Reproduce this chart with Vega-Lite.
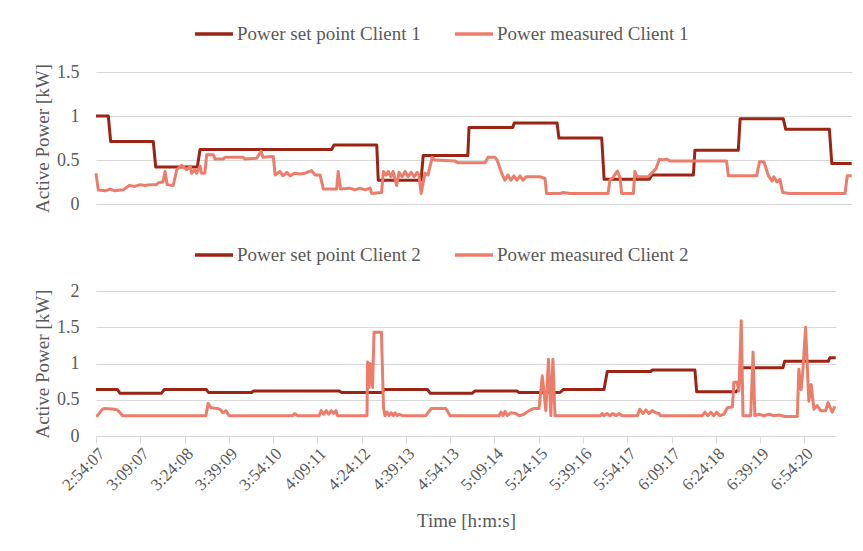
{
 "$schema": "https://vega.github.io/schema/vega-lite/v6.json",
 "padding": {"left": 33, "top": 13, "right": 5, "bottom": 5},
 "background": "white",
 "config": {
  "font": "Times New Roman, Liberation Serif, serif",
  "view": {"stroke": null},
  "axis": {"labelFont": "Times New Roman, Liberation Serif, serif", "titleFont": "Times New Roman, Liberation Serif, serif", "labelFontSize": 18, "titleFontSize": 19, "labelColor": "#595959", "titleColor": "#595959", "titleFontWeight": "normal", "gridColor": "#d9d9d9", "domainColor": "#d9d9d9", "tickColor": "#d9d9d9"},
  "legend": {"labelFont": "Times New Roman, Liberation Serif, serif", "labelFontSize": 19, "labelColor": "#595959", "symbolType": "stroke", "symbolStrokeWidth": 3.5, "symbolSize": 1444, "orient": "none", "direction": "horizontal", "columnPadding": 27, "labelOffset": 2, "padding": 0, "title": null, "labelLimit": 400}
 },
 "datasets": {
  "c1": [
   {"t": 0, "series": "Power set point Client 1", "kW": 1.0},
   {"t": 4.08, "series": "Power set point Client 1", "kW": 1.0},
   {"t": 4.87, "series": "Power set point Client 1", "kW": 0.71},
   {"t": 19.0, "series": "Power set point Client 1", "kW": 0.71},
   {"t": 19.8, "series": "Power set point Client 1", "kW": 0.42},
   {"t": 33.6, "series": "Power set point Client 1", "kW": 0.42},
   {"t": 34.5, "series": "Power set point Client 1", "kW": 0.62},
   {"t": 78.2, "series": "Power set point Client 1", "kW": 0.62},
   {"t": 78.9, "series": "Power set point Client 1", "kW": 0.67},
   {"t": 93.1, "series": "Power set point Client 1", "kW": 0.67},
   {"t": 93.6, "series": "Power set point Client 1", "kW": 0.27},
   {"t": 107.8, "series": "Power set point Client 1", "kW": 0.27},
   {"t": 108.5, "series": "Power set point Client 1", "kW": 0.55},
   {"t": 123.3, "series": "Power set point Client 1", "kW": 0.55},
   {"t": 123.7, "series": "Power set point Client 1", "kW": 0.87},
   {"t": 138.2, "series": "Power set point Client 1", "kW": 0.87},
   {"t": 138.7, "series": "Power set point Client 1", "kW": 0.92},
   {"t": 152.9, "series": "Power set point Client 1", "kW": 0.92},
   {"t": 153.5, "series": "Power set point Client 1", "kW": 0.75},
   {"t": 167.7, "series": "Power set point Client 1", "kW": 0.75},
   {"t": 168.5, "series": "Power set point Client 1", "kW": 0.28},
   {"t": 183.5, "series": "Power set point Client 1", "kW": 0.28},
   {"t": 184.3, "series": "Power set point Client 1", "kW": 0.33},
   {"t": 198.1, "series": "Power set point Client 1", "kW": 0.33},
   {"t": 198.6, "series": "Power set point Client 1", "kW": 0.61},
   {"t": 213.0, "series": "Power set point Client 1", "kW": 0.61},
   {"t": 213.6, "series": "Power set point Client 1", "kW": 0.97},
   {"t": 227.9, "series": "Power set point Client 1", "kW": 0.97},
   {"t": 228.7, "series": "Power set point Client 1", "kW": 0.85},
   {"t": 243.2, "series": "Power set point Client 1", "kW": 0.85},
   {"t": 244.0, "series": "Power set point Client 1", "kW": 0.46},
   {"t": 250.6, "series": "Power set point Client 1", "kW": 0.46},
   {"t": 0, "series": "Power measured Client 1", "kW": 0.35},
   {"t": 0.76, "series": "Power measured Client 1", "kW": 0.16},
   {"t": 3.0, "series": "Power measured Client 1", "kW": 0.15},
   {"t": 4.6, "series": "Power measured Client 1", "kW": 0.17},
   {"t": 6.3, "series": "Power measured Client 1", "kW": 0.15},
   {"t": 8.0, "series": "Power measured Client 1", "kW": 0.16},
   {"t": 9.05, "series": "Power measured Client 1", "kW": 0.16},
   {"t": 11.0, "series": "Power measured Client 1", "kW": 0.21},
   {"t": 12.9, "series": "Power measured Client 1", "kW": 0.2},
   {"t": 14.6, "series": "Power measured Client 1", "kW": 0.22},
   {"t": 16.2, "series": "Power measured Client 1", "kW": 0.21},
   {"t": 17.9, "series": "Power measured Client 1", "kW": 0.22},
   {"t": 20.1, "series": "Power measured Client 1", "kW": 0.22},
   {"t": 20.6, "series": "Power measured Client 1", "kW": 0.24},
   {"t": 22.2, "series": "Power measured Client 1", "kW": 0.25},
   {"t": 22.9, "series": "Power measured Client 1", "kW": 0.37},
   {"t": 23.6, "series": "Power measured Client 1", "kW": 0.22},
   {"t": 25.6, "series": "Power measured Client 1", "kW": 0.21},
   {"t": 26.8, "series": "Power measured Client 1", "kW": 0.39},
   {"t": 28.4, "series": "Power measured Client 1", "kW": 0.44},
   {"t": 30.1, "series": "Power measured Client 1", "kW": 0.39},
   {"t": 31.2, "series": "Power measured Client 1", "kW": 0.43},
   {"t": 31.7, "series": "Power measured Client 1", "kW": 0.35},
   {"t": 32.8, "series": "Power measured Client 1", "kW": 0.39},
   {"t": 33.4, "series": "Power measured Client 1", "kW": 0.35},
   {"t": 34.5, "series": "Power measured Client 1", "kW": 0.43},
   {"t": 35.0, "series": "Power measured Client 1", "kW": 0.35},
   {"t": 36.1, "series": "Power measured Client 1", "kW": 0.35},
   {"t": 36.7, "series": "Power measured Client 1", "kW": 0.56},
   {"t": 38.9, "series": "Power measured Client 1", "kW": 0.56},
   {"t": 39.5, "series": "Power measured Client 1", "kW": 0.51},
   {"t": 42.2, "series": "Power measured Client 1", "kW": 0.51},
   {"t": 42.8, "series": "Power measured Client 1", "kW": 0.53},
   {"t": 48.8, "series": "Power measured Client 1", "kW": 0.53},
   {"t": 49.4, "series": "Power measured Client 1", "kW": 0.51},
   {"t": 53.3, "series": "Power measured Client 1", "kW": 0.52},
   {"t": 54.0, "series": "Power measured Client 1", "kW": 0.56},
   {"t": 54.7, "series": "Power measured Client 1", "kW": 0.6},
   {"t": 55.4, "series": "Power measured Client 1", "kW": 0.53},
   {"t": 58.8, "series": "Power measured Client 1", "kW": 0.54},
   {"t": 59.4, "series": "Power measured Client 1", "kW": 0.33},
   {"t": 61.0, "series": "Power measured Client 1", "kW": 0.37},
   {"t": 62.0, "series": "Power measured Client 1", "kW": 0.32},
   {"t": 63.3, "series": "Power measured Client 1", "kW": 0.36},
   {"t": 64.3, "series": "Power measured Client 1", "kW": 0.32},
   {"t": 66.0, "series": "Power measured Client 1", "kW": 0.35},
   {"t": 67.6, "series": "Power measured Client 1", "kW": 0.34},
   {"t": 69.3, "series": "Power measured Client 1", "kW": 0.35},
   {"t": 71.5, "series": "Power measured Client 1", "kW": 0.38},
   {"t": 72.6, "series": "Power measured Client 1", "kW": 0.33},
   {"t": 74.3, "series": "Power measured Client 1", "kW": 0.33},
   {"t": 75.4, "series": "Power measured Client 1", "kW": 0.17},
   {"t": 79.8, "series": "Power measured Client 1", "kW": 0.17},
   {"t": 80.3, "series": "Power measured Client 1", "kW": 0.37},
   {"t": 81.1, "series": "Power measured Client 1", "kW": 0.17},
   {"t": 84.2, "series": "Power measured Client 1", "kW": 0.18},
   {"t": 85.9, "series": "Power measured Client 1", "kW": 0.16},
   {"t": 87.5, "series": "Power measured Client 1", "kW": 0.18},
   {"t": 89.2, "series": "Power measured Client 1", "kW": 0.16},
   {"t": 90.9, "series": "Power measured Client 1", "kW": 0.18},
   {"t": 91.4, "series": "Power measured Client 1", "kW": 0.12},
   {"t": 94.7, "series": "Power measured Client 1", "kW": 0.13},
   {"t": 95.3, "series": "Power measured Client 1", "kW": 0.37},
   {"t": 96.2, "series": "Power measured Client 1", "kW": 0.33},
   {"t": 96.9, "series": "Power measured Client 1", "kW": 0.37},
   {"t": 97.8, "series": "Power measured Client 1", "kW": 0.31},
   {"t": 98.5, "series": "Power measured Client 1", "kW": 0.37},
   {"t": 99.7, "series": "Power measured Client 1", "kW": 0.21},
   {"t": 100.5, "series": "Power measured Client 1", "kW": 0.36},
   {"t": 101.5, "series": "Power measured Client 1", "kW": 0.31},
   {"t": 102.5, "series": "Power measured Client 1", "kW": 0.37},
   {"t": 103.5, "series": "Power measured Client 1", "kW": 0.31},
   {"t": 104.5, "series": "Power measured Client 1", "kW": 0.36},
   {"t": 105.5, "series": "Power measured Client 1", "kW": 0.31},
   {"t": 106.5, "series": "Power measured Client 1", "kW": 0.36},
   {"t": 107.1, "series": "Power measured Client 1", "kW": 0.33},
   {"t": 107.8, "series": "Power measured Client 1", "kW": 0.12},
   {"t": 109.1, "series": "Power measured Client 1", "kW": 0.35},
   {"t": 110.1, "series": "Power measured Client 1", "kW": 0.33},
   {"t": 111.5, "series": "Power measured Client 1", "kW": 0.53},
   {"t": 112.3, "series": "Power measured Client 1", "kW": 0.5},
   {"t": 119.0, "series": "Power measured Client 1", "kW": 0.49},
   {"t": 120.0, "series": "Power measured Client 1", "kW": 0.47},
   {"t": 129.0, "series": "Power measured Client 1", "kW": 0.47},
   {"t": 130.0, "series": "Power measured Client 1", "kW": 0.53},
   {"t": 132.3, "series": "Power measured Client 1", "kW": 0.53},
   {"t": 133.0, "series": "Power measured Client 1", "kW": 0.5},
   {"t": 134.5, "series": "Power measured Client 1", "kW": 0.35},
   {"t": 135.6, "series": "Power measured Client 1", "kW": 0.27},
   {"t": 136.6, "series": "Power measured Client 1", "kW": 0.33},
   {"t": 137.6, "series": "Power measured Client 1", "kW": 0.27},
   {"t": 138.6, "series": "Power measured Client 1", "kW": 0.32},
   {"t": 139.6, "series": "Power measured Client 1", "kW": 0.27},
   {"t": 140.6, "series": "Power measured Client 1", "kW": 0.32},
   {"t": 141.6, "series": "Power measured Client 1", "kW": 0.27},
   {"t": 142.6, "series": "Power measured Client 1", "kW": 0.31},
   {"t": 147.2, "series": "Power measured Client 1", "kW": 0.31},
   {"t": 148.9, "series": "Power measured Client 1", "kW": 0.29},
   {"t": 149.4, "series": "Power measured Client 1", "kW": 0.12},
   {"t": 153.9, "series": "Power measured Client 1", "kW": 0.12},
   {"t": 154.9, "series": "Power measured Client 1", "kW": 0.13},
   {"t": 157.2, "series": "Power measured Client 1", "kW": 0.12},
   {"t": 169.8, "series": "Power measured Client 1", "kW": 0.12},
   {"t": 170.4, "series": "Power measured Client 1", "kW": 0.27},
   {"t": 171.4, "series": "Power measured Client 1", "kW": 0.3},
   {"t": 172.9, "series": "Power measured Client 1", "kW": 0.375},
   {"t": 173.8, "series": "Power measured Client 1", "kW": 0.3},
   {"t": 174.3, "series": "Power measured Client 1", "kW": 0.12},
   {"t": 178.2, "series": "Power measured Client 1", "kW": 0.12},
   {"t": 178.7, "series": "Power measured Client 1", "kW": 0.37},
   {"t": 179.4, "series": "Power measured Client 1", "kW": 0.31},
   {"t": 183.1, "series": "Power measured Client 1", "kW": 0.31},
   {"t": 184.8, "series": "Power measured Client 1", "kW": 0.37},
   {"t": 185.7, "series": "Power measured Client 1", "kW": 0.4},
   {"t": 186.8, "series": "Power measured Client 1", "kW": 0.51},
   {"t": 188.0, "series": "Power measured Client 1", "kW": 0.5},
   {"t": 189.3, "series": "Power measured Client 1", "kW": 0.51},
   {"t": 190.3, "series": "Power measured Client 1", "kW": 0.49},
   {"t": 209.1, "series": "Power measured Client 1", "kW": 0.49},
   {"t": 209.7, "series": "Power measured Client 1", "kW": 0.32},
   {"t": 219.1, "series": "Power measured Client 1", "kW": 0.32},
   {"t": 220.0, "series": "Power measured Client 1", "kW": 0.48},
   {"t": 221.5, "series": "Power measured Client 1", "kW": 0.48},
   {"t": 223.0, "series": "Power measured Client 1", "kW": 0.32},
   {"t": 224.2, "series": "Power measured Client 1", "kW": 0.26},
   {"t": 224.8, "series": "Power measured Client 1", "kW": 0.31},
   {"t": 225.8, "series": "Power measured Client 1", "kW": 0.25},
   {"t": 226.8, "series": "Power measured Client 1", "kW": 0.28},
   {"t": 227.7, "series": "Power measured Client 1", "kW": 0.13},
   {"t": 230.1, "series": "Power measured Client 1", "kW": 0.12},
   {"t": 248.4, "series": "Power measured Client 1", "kW": 0.12},
   {"t": 249.1, "series": "Power measured Client 1", "kW": 0.32},
   {"t": 250.6, "series": "Power measured Client 1", "kW": 0.32}
  ],
  "c2": [
   {"t": 0, "series": "Power set point Client 2", "kW": 0.64},
   {"t": 7.3, "series": "Power set point Client 2", "kW": 0.64},
   {"t": 8.1, "series": "Power set point Client 2", "kW": 0.59},
   {"t": 22.2, "series": "Power set point Client 2", "kW": 0.59},
   {"t": 23.1, "series": "Power set point Client 2", "kW": 0.64},
   {"t": 37.4, "series": "Power set point Client 2", "kW": 0.64},
   {"t": 38.1, "series": "Power set point Client 2", "kW": 0.6},
   {"t": 52.7, "series": "Power set point Client 2", "kW": 0.6},
   {"t": 53.3, "series": "Power set point Client 2", "kW": 0.62},
   {"t": 82.4, "series": "Power set point Client 2", "kW": 0.62},
   {"t": 83.2, "series": "Power set point Client 2", "kW": 0.6},
   {"t": 96.9, "series": "Power set point Client 2", "kW": 0.6},
   {"t": 97.6, "series": "Power set point Client 2", "kW": 0.64},
   {"t": 112.3, "series": "Power set point Client 2", "kW": 0.64},
   {"t": 113.2, "series": "Power set point Client 2", "kW": 0.59},
   {"t": 127.5, "series": "Power set point Client 2", "kW": 0.59},
   {"t": 128.3, "series": "Power set point Client 2", "kW": 0.62},
   {"t": 142.6, "series": "Power set point Client 2", "kW": 0.62},
   {"t": 143.3, "series": "Power set point Client 2", "kW": 0.6},
   {"t": 157.2, "series": "Power set point Client 2", "kW": 0.6},
   {"t": 158.3, "series": "Power set point Client 2", "kW": 0.64},
   {"t": 172.1, "series": "Power set point Client 2", "kW": 0.64},
   {"t": 173.2, "series": "Power set point Client 2", "kW": 0.89},
   {"t": 187.9, "series": "Power set point Client 2", "kW": 0.89},
   {"t": 188.5, "series": "Power set point Client 2", "kW": 0.91},
   {"t": 202.9, "series": "Power set point Client 2", "kW": 0.91},
   {"t": 203.5, "series": "Power set point Client 2", "kW": 0.61},
   {"t": 216.8, "series": "Power set point Client 2", "kW": 0.61},
   {"t": 217.6, "series": "Power set point Client 2", "kW": 0.64},
   {"t": 218.4, "series": "Power set point Client 2", "kW": 0.94},
   {"t": 232.7, "series": "Power set point Client 2", "kW": 0.94},
   {"t": 233.3, "series": "Power set point Client 2", "kW": 1.03},
   {"t": 248.1, "series": "Power set point Client 2", "kW": 1.03},
   {"t": 248.6, "series": "Power set point Client 2", "kW": 1.08},
   {"t": 250.6, "series": "Power set point Client 2", "kW": 1.08},
   {"t": 0, "series": "Power measured Client 2", "kW": 0.28},
   {"t": 0.5, "series": "Power measured Client 2", "kW": 0.28},
   {"t": 2.2, "series": "Power measured Client 2", "kW": 0.37},
   {"t": 3.1, "series": "Power measured Client 2", "kW": 0.38},
   {"t": 6.2, "series": "Power measured Client 2", "kW": 0.37},
   {"t": 7.3, "series": "Power measured Client 2", "kW": 0.36},
   {"t": 9.0, "series": "Power measured Client 2", "kW": 0.28},
   {"t": 37.2, "series": "Power measured Client 2", "kW": 0.28},
   {"t": 38.0, "series": "Power measured Client 2", "kW": 0.45},
   {"t": 38.9, "series": "Power measured Client 2", "kW": 0.39},
   {"t": 41.1, "series": "Power measured Client 2", "kW": 0.38},
   {"t": 42.3, "series": "Power measured Client 2", "kW": 0.36},
   {"t": 42.9, "series": "Power measured Client 2", "kW": 0.32},
   {"t": 43.4, "series": "Power measured Client 2", "kW": 0.33},
   {"t": 44.0, "series": "Power measured Client 2", "kW": 0.35},
   {"t": 45.1, "series": "Power measured Client 2", "kW": 0.28},
   {"t": 66.6, "series": "Power measured Client 2", "kW": 0.28},
   {"t": 67.4, "series": "Power measured Client 2", "kW": 0.31},
   {"t": 68.2, "series": "Power measured Client 2", "kW": 0.28},
   {"t": 75.6, "series": "Power measured Client 2", "kW": 0.28},
   {"t": 76.3, "series": "Power measured Client 2", "kW": 0.35},
   {"t": 77.1, "series": "Power measured Client 2", "kW": 0.3},
   {"t": 78.0, "series": "Power measured Client 2", "kW": 0.35},
   {"t": 78.8, "series": "Power measured Client 2", "kW": 0.3},
   {"t": 79.7, "series": "Power measured Client 2", "kW": 0.35},
   {"t": 80.5, "series": "Power measured Client 2", "kW": 0.31},
   {"t": 81.3, "series": "Power measured Client 2", "kW": 0.35},
   {"t": 81.8, "series": "Power measured Client 2", "kW": 0.28},
   {"t": 91.8, "series": "Power measured Client 2", "kW": 0.28},
   {"t": 92.0, "series": "Power measured Client 2", "kW": 1.02},
   {"t": 92.5, "series": "Power measured Client 2", "kW": 0.67},
   {"t": 92.9, "series": "Power measured Client 2", "kW": 1.0},
   {"t": 93.7, "series": "Power measured Client 2", "kW": 0.67},
   {"t": 94.2, "series": "Power measured Client 2", "kW": 1.43},
   {"t": 96.7, "series": "Power measured Client 2", "kW": 1.43},
   {"t": 97.4, "series": "Power measured Client 2", "kW": 0.39},
   {"t": 97.9, "series": "Power measured Client 2", "kW": 0.28},
   {"t": 98.6, "series": "Power measured Client 2", "kW": 0.33},
   {"t": 99.3, "series": "Power measured Client 2", "kW": 0.28},
   {"t": 100.0, "series": "Power measured Client 2", "kW": 0.32},
   {"t": 100.7, "series": "Power measured Client 2", "kW": 0.28},
   {"t": 101.3, "series": "Power measured Client 2", "kW": 0.32},
   {"t": 102.0, "series": "Power measured Client 2", "kW": 0.28},
   {"t": 102.7, "series": "Power measured Client 2", "kW": 0.3},
   {"t": 103.8, "series": "Power measured Client 2", "kW": 0.28},
   {"t": 111.7, "series": "Power measured Client 2", "kW": 0.28},
   {"t": 113.6, "series": "Power measured Client 2", "kW": 0.38},
   {"t": 118.5, "series": "Power measured Client 2", "kW": 0.38},
   {"t": 120.0, "series": "Power measured Client 2", "kW": 0.28},
   {"t": 136.6, "series": "Power measured Client 2", "kW": 0.28},
   {"t": 137.2, "series": "Power measured Client 2", "kW": 0.33},
   {"t": 137.9, "series": "Power measured Client 2", "kW": 0.28},
   {"t": 138.6, "series": "Power measured Client 2", "kW": 0.34},
   {"t": 139.3, "series": "Power measured Client 2", "kW": 0.28},
   {"t": 140.5, "series": "Power measured Client 2", "kW": 0.32},
   {"t": 142.3, "series": "Power measured Client 2", "kW": 0.31},
   {"t": 143.3, "series": "Power measured Client 2", "kW": 0.28},
   {"t": 145.0, "series": "Power measured Client 2", "kW": 0.3},
   {"t": 146.7, "series": "Power measured Client 2", "kW": 0.35},
   {"t": 148.4, "series": "Power measured Client 2", "kW": 0.38},
   {"t": 150.1, "series": "Power measured Client 2", "kW": 0.38},
   {"t": 151.2, "series": "Power measured Client 2", "kW": 0.83},
   {"t": 152.4, "series": "Power measured Client 2", "kW": 0.35},
   {"t": 153.3, "series": "Power measured Client 2", "kW": 1.06},
   {"t": 154.1, "series": "Power measured Client 2", "kW": 0.28},
   {"t": 154.8, "series": "Power measured Client 2", "kW": 1.06},
   {"t": 155.5, "series": "Power measured Client 2", "kW": 0.28},
   {"t": 171.0, "series": "Power measured Client 2", "kW": 0.28},
   {"t": 171.5, "series": "Power measured Client 2", "kW": 0.31},
   {"t": 172.1, "series": "Power measured Client 2", "kW": 0.28},
   {"t": 173.1, "series": "Power measured Client 2", "kW": 0.31},
   {"t": 174.1, "series": "Power measured Client 2", "kW": 0.28},
   {"t": 175.1, "series": "Power measured Client 2", "kW": 0.31},
   {"t": 176.2, "series": "Power measured Client 2", "kW": 0.28},
   {"t": 177.2, "series": "Power measured Client 2", "kW": 0.31},
   {"t": 178.2, "series": "Power measured Client 2", "kW": 0.28},
   {"t": 183.4, "series": "Power measured Client 2", "kW": 0.28},
   {"t": 184.2, "series": "Power measured Client 2", "kW": 0.37},
   {"t": 185.3, "series": "Power measured Client 2", "kW": 0.31},
   {"t": 186.3, "series": "Power measured Client 2", "kW": 0.36},
   {"t": 187.3, "series": "Power measured Client 2", "kW": 0.31},
   {"t": 188.4, "series": "Power measured Client 2", "kW": 0.35},
   {"t": 189.7, "series": "Power measured Client 2", "kW": 0.32},
   {"t": 190.7, "series": "Power measured Client 2", "kW": 0.31},
   {"t": 191.3, "series": "Power measured Client 2", "kW": 0.28},
   {"t": 205.4, "series": "Power measured Client 2", "kW": 0.28},
   {"t": 206.3, "series": "Power measured Client 2", "kW": 0.33},
   {"t": 207.3, "series": "Power measured Client 2", "kW": 0.28},
   {"t": 208.3, "series": "Power measured Client 2", "kW": 0.33},
   {"t": 209.3, "series": "Power measured Client 2", "kW": 0.28},
   {"t": 210.3, "series": "Power measured Client 2", "kW": 0.33},
   {"t": 211.3, "series": "Power measured Client 2", "kW": 0.28},
   {"t": 212.7, "series": "Power measured Client 2", "kW": 0.3},
   {"t": 213.9, "series": "Power measured Client 2", "kW": 0.39},
   {"t": 215.6, "series": "Power measured Client 2", "kW": 0.4},
   {"t": 216.1, "series": "Power measured Client 2", "kW": 0.74},
   {"t": 217.2, "series": "Power measured Client 2", "kW": 0.74},
   {"t": 217.8, "series": "Power measured Client 2", "kW": 0.62},
   {"t": 218.6, "series": "Power measured Client 2", "kW": 1.59},
   {"t": 219.2, "series": "Power measured Client 2", "kW": 0.28},
   {"t": 221.8, "series": "Power measured Client 2", "kW": 0.28},
   {"t": 222.6, "series": "Power measured Client 2", "kW": 1.16},
   {"t": 223.2, "series": "Power measured Client 2", "kW": 0.28},
   {"t": 224.6, "series": "Power measured Client 2", "kW": 0.3},
   {"t": 226.3, "series": "Power measured Client 2", "kW": 0.28},
   {"t": 228.0, "series": "Power measured Client 2", "kW": 0.3},
   {"t": 229.7, "series": "Power measured Client 2", "kW": 0.28},
   {"t": 231.4, "series": "Power measured Client 2", "kW": 0.29},
   {"t": 233.4, "series": "Power measured Client 2", "kW": 0.27},
   {"t": 237.6, "series": "Power measured Client 2", "kW": 0.27},
   {"t": 238.1, "series": "Power measured Client 2", "kW": 0.92},
   {"t": 238.9, "series": "Power measured Client 2", "kW": 0.64},
   {"t": 239.5, "series": "Power measured Client 2", "kW": 0.92},
   {"t": 240.4, "series": "Power measured Client 2", "kW": 1.5},
   {"t": 241.5, "series": "Power measured Client 2", "kW": 0.48},
   {"t": 242.3, "series": "Power measured Client 2", "kW": 0.71},
   {"t": 243.2, "series": "Power measured Client 2", "kW": 0.37},
   {"t": 244.3, "series": "Power measured Client 2", "kW": 0.42},
   {"t": 245.5, "series": "Power measured Client 2", "kW": 0.35},
   {"t": 247.2, "series": "Power measured Client 2", "kW": 0.35},
   {"t": 248.0, "series": "Power measured Client 2", "kW": 0.46},
   {"t": 249.4, "series": "Power measured Client 2", "kW": 0.33},
   {"t": 250.3, "series": "Power measured Client 2", "kW": 0.41}
  ]
 },
 "spacing": 21,
 "vconcat": [
  {
   "width": 756,
   "height": 132,
   "data": {"name": "c1"},
   "mark": {"type": "line", "strokeWidth": 3, "strokeJoin": "round"},
   "encoding": {
    "x": {"field": "t", "type": "quantitative", "scale": {"domain": [0, 250.7], "nice": false, "zero": false}, "axis": null},
    "y": {"field": "kW", "type": "quantitative", "scale": {"domain": [0, 1.5], "nice": false}, "axis": {"title": "Active Power [kW]", "values": [0, 0.5, 1, 1.5], "format": "~g", "domain": false, "ticks": false, "labelPadding": 17, "titlePadding": 4}},
    "color": {"field": "series", "type": "nominal", "scale": {"domain": ["Power set point Client 1", "Power measured Client 1"], "range": ["#9B2414", "#ED7D6B"]}, "legend": {"legendX": 97, "legendY": -59}}
   }
  },
  {
   "width": 740,
   "height": 145,
   "data": {"name": "c2"},
   "mark": {"type": "line", "strokeWidth": 3, "strokeJoin": "round"},
   "encoding": {
    "x": {"field": "t", "type": "quantitative", "scale": {"domain": [0, 250.7], "nice": false, "zero": false}, "axis": {"title": "Time [h:m:s]", "values": [0, 15, 30, 45, 60, 75, 90, 105, 120, 135, 150, 165, 180, 195, 210, 225, 240], "labelExpr": "['2:54:07','3:09:07','3:24:08','3:39:09','3:54:10','4:09:11','4:24:12','4:39:13','4:54:13','5:09:14','5:24:15','5:39:16','5:54:17','6:09:17','6:24:18','6:39:19','6:54:20'][round(datum.value/15)]", "labelAngle": -45, "labelFontSize": 17, "grid": false, "tickSize": 7, "labelPadding": 2, "titlePadding": 18, "labelOverlap": false, "labelFlush": false}},
    "y": {"field": "kW", "type": "quantitative", "scale": {"domain": [0, 2], "nice": false}, "axis": {"title": "Active Power [kW]", "values": [0, 0.5, 1, 1.5, 2], "format": "~g", "domain": false, "ticks": false, "labelPadding": 17, "titlePadding": 4}},
    "color": {"field": "series", "type": "nominal", "scale": {"domain": ["Power set point Client 2", "Power measured Client 2"], "range": ["#9B2414", "#ED7D6B"]}, "legend": {"legendX": 97, "legendY": -57}}
   }
  }
 ],
 "resolve": {"scale": {"color": "independent", "x": "independent", "y": "independent"}, "legend": {"color": "independent"}}
}
